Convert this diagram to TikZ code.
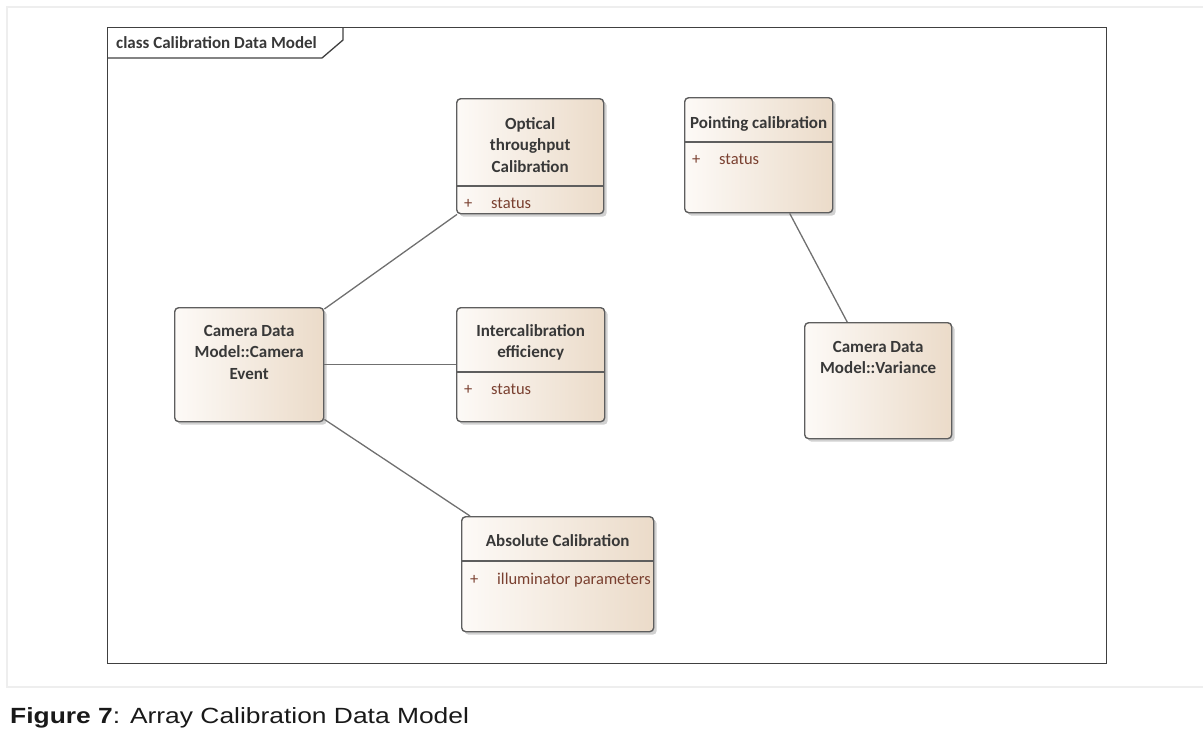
\documentclass[tikz,border=0pt]{standalone}
\usepackage{fontspec}
\setmainfont{Carlito}
\newfontfamily\captionfont{Liberation Sans}
\usetikzlibrary{positioning,shadows}

\definecolor{frameline}{HTML}{404040}
\definecolor{classline}{HTML}{5E5E5E}
\definecolor{assocline}{HTML}{707070}
\definecolor{classleft}{HTML}{FDFAF7}
\definecolor{classright}{HTML}{EBDBC9}
\definecolor{titletext}{HTML}{383838}
\definecolor{attrtext}{HTML}{7A4030}
\definecolor{pageline}{HTML}{EEEEEE}

\begin{document}
\begin{tikzpicture}[x=1pt,y=-1pt,
    classbox/.style={draw=classline,line width=1.4pt,rounded corners=4pt,
      left color=classleft,right color=classright,anchor=north west,inner sep=0pt,
      drop shadow={shadow xshift=3pt,shadow yshift=-3pt,fill=black!40,opacity=0.45}},
    classtitle/.style={anchor=north,inner sep=0pt,align=center,text=titletext,
      font=\bfseries\fontsize{17}{21.5}\selectfont},
    classattr/.style={anchor=north west,inner sep=0pt,text=attrtext,
      font=\fontsize{16.5}{19}\selectfont},
    compartment/.style={draw=classline,line width=1.4pt},
    assoc/.style={draw=assocline,line width=1.3pt}]

\useasboundingbox (0,0) rectangle (1203,742);

% page
\draw[pageline,line width=2pt] (1203,7) -- (7,7) -- (7,687) -- (1203,687);

% diagram frame
\node[draw=frameline,line width=1.3pt,anchor=north west,inner sep=0pt,
    minimum width=999pt,minimum height=636pt] (frame) at (107,27) {};
\draw[frameline,line width=1.3pt] ([yshift=-31pt]frame.north west)
    -- ++(215,0) -- ++(21,-18) -- ++(0,-13);
\node[classtitle,anchor=west] (frametitle) at ([xshift=9pt,yshift=-16pt]frame.north west)
    {class Calibration Data Model};

% classes
\node[classbox,minimum width=147pt,minimum height=115pt] (optical) at (456,98) {};
\node[classtitle,below=19pt of optical.north] (opticaltitle) {Optical\\throughput\\Calibration};
\draw[compartment] ([yshift=-88pt]optical.north west) -- ([yshift=-88pt]optical.north east);
\node[classattr] (opticalattr) at ([xshift=8pt,yshift=-100pt]optical.north west)
    {\makebox[27pt][l]{+}status};

\node[classbox,minimum width=148pt,minimum height=115pt] (pointing) at (684,97) {};
\node[classtitle,below=19pt of pointing.north] (pointingtitle) {Pointing calibration};
\draw[compartment] ([yshift=-45pt]pointing.north west) -- ([yshift=-45pt]pointing.north east);
\node[classattr] (pointingattr) at ([xshift=8pt,yshift=-57pt]pointing.north west)
    {\makebox[27pt][l]{+}status};

\node[classbox,minimum width=147pt,minimum height=116pt] (variance) at (804,322) {};
\node[classtitle,below=19pt of variance.north] (variancetitle) {Camera Data\\Model::Variance};

\node[classbox,minimum width=149pt,minimum height=114pt] (event) at (174,307) {};
\node[classtitle,below=18pt of event.north] (eventtitle) {Camera Data\\Model::Camera\\Event};

\node[classbox,minimum width=148pt,minimum height=114pt] (intercal) at (456,307) {};
\node[classtitle,below=17pt of intercal.north] (intercaltitle) {Intercalibration\\efficiency};
\draw[compartment] ([yshift=-65pt]intercal.north west) -- ([yshift=-65pt]intercal.north east);
\node[classattr] (intercalattr) at ([xshift=8pt,yshift=-77pt]intercal.north west)
    {\makebox[27pt][l]{+}status};

\node[classbox,minimum width=192pt,minimum height=115pt] (absolute) at (461,516) {};
\node[classtitle,below=18pt of absolute.north] (absolutetitle) {Absolute Calibration};
\draw[compartment] ([yshift=-45pt]absolute.north west) -- ([yshift=-45pt]absolute.north east);
\node[classattr] (absoluteattr) at ([xshift=9pt,yshift=-57pt]absolute.north west)
    {\makebox[27pt][l]{+}illuminator parameters};

% associations
\path[assoc]
    ([yshift=-2pt]event.north east) edge ([xshift=1pt]optical.south west)
    (event) edge (intercal)
    ([yshift=3pt]event.south east) edge ([xshift=9pt]absolute.north west)
    ([xshift=31pt]pointing.south) edge ([xshift=-31pt]variance.north);

% caption
\node[anchor=base west,inner sep=0pt,text=black!90,xscale=1.2,
    font=\captionfont\fontsize{22}{26}\selectfont] (caption) at (10,723)
    {\textbf{Figure 7}: Array Calibration Data Model};

\end{tikzpicture}
\end{document}
